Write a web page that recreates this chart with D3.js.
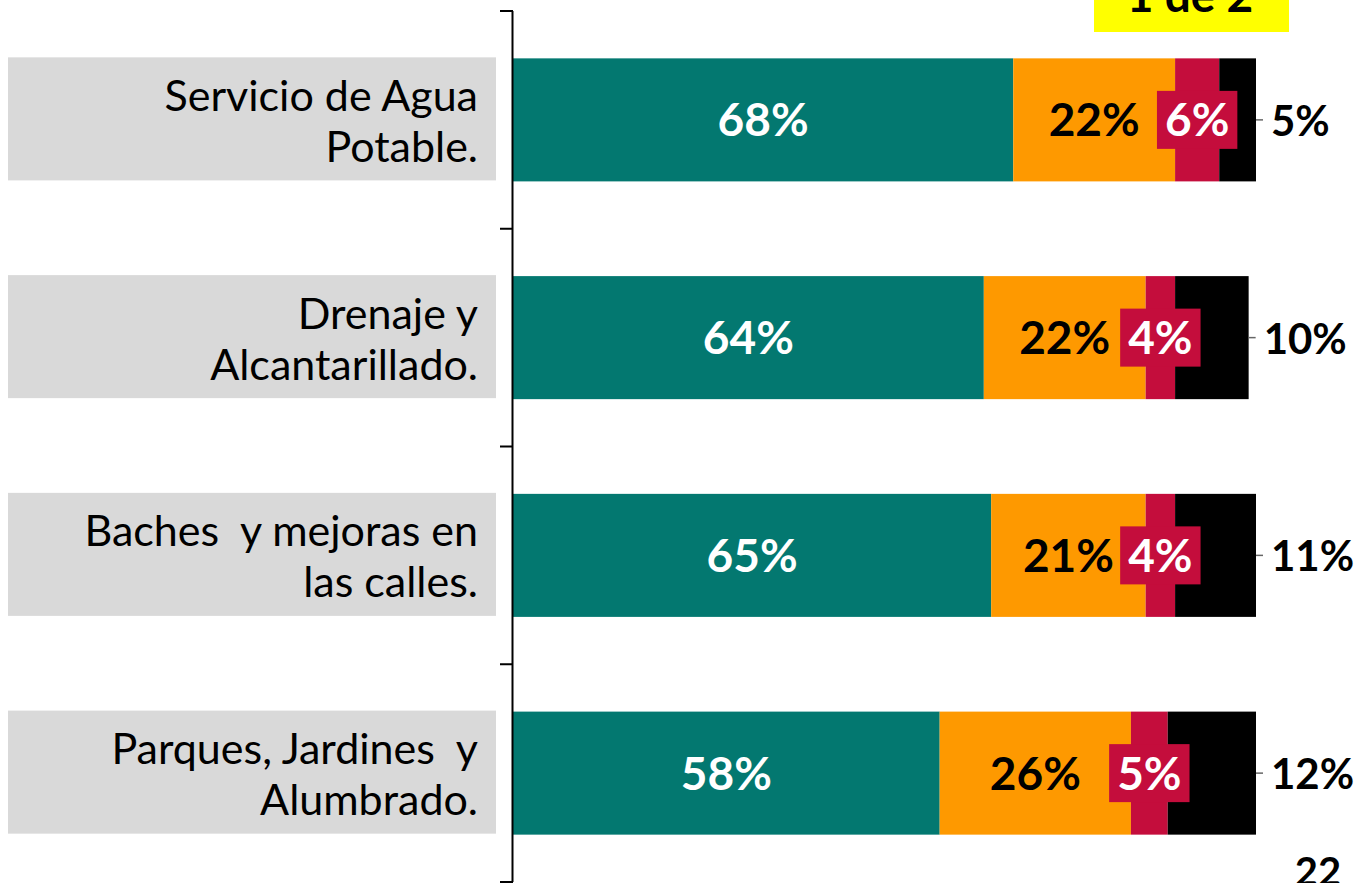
<!DOCTYPE html>
<html>
<head>
<meta charset="utf-8">
<script src="https://cdn.jsdelivr.net/npm/d3@7"></script>
<style>
  html, body { margin: 0; padding: 0; background: #fff; }
  svg { display: block; }
  .cat-label { font-family: Lato, "Open Sans", sans-serif; font-size: 43px; fill: #000; white-space: pre; }
  .val { font-family: Lato, "Open Sans", sans-serif; font-size: 46px; font-weight: 700; }
  .val-out { font-size: 42px; }
</style>
</head>
<body>
<svg id="chart"></svg>
<script>
const width = 1361;
const height = 883;

// categories (label lines) and the four answer shares
const categories = [
	["Servicio de Agua", "Potable."],
	["Drenaje y", "Alcantarillado."],
	["Baches  y mejoras en", "las calles."],
	["Parques, Jardines  y", "Alumbrado."]
];
const serie1 = [68, 64, 65, 58];
const serie2 = [22, 22, 21, 26];
const serie3 = [6, 4, 4, 5];
const serie4 = [5, 10, 11, 12];
const pageTag = "1 de 2";
const pageNumber = "22";

const colors = ["#037870", "#FE9900", "#C40D3C", "#000000"];

const svg = d3.select("#chart")
	.attr("width", width)
	.attr("height", height);

const x = d3.scaleLinear()
	.domain([0, 101])
	.range([513, 1256]);

const y = d3.scaleBand()
	.domain(d3.range(categories.length))
	.range([11, 882])
	.paddingInner(0.435)
	.paddingOuter(0.2175);

const series = [serie1, serie2, serie3, serie4];

// stack data by hand: one row per category
const rows = categories.map((c, i) => {
	let acc = 0;
	const segs = series.map((s, k) => {
		const seg = { k, start: acc, value: s[i] };
		acc += s[i];
		return seg;
	});
	return { i, lines: c, segs, total: acc };
});

// grey category boxes
const labelGroup = svg.append("g");
labelGroup.selectAll("rect")
	.data(rows)
	.enter()
	.append("rect")
	.attr("x", 8)
	.attr("y", (d) => y(d.i) - 1)
	.attr("width", 488)
	.attr("height", y.bandwidth())
	.attr("fill", "#D9D9D9");

labelGroup.selectAll("text")
	.data(rows)
	.enter()
	.append("text")
	.attr("class", "cat-label")
	.attr("text-anchor", "end")
	.attr("x", 478)
	.attr("y", (d) => y(d.i) + y.bandwidth() / 2 - 9)
	.selectAll("tspan")
	.data((d) => d.lines)
	.enter()
	.append("tspan")
	.attr("x", 478)
	.attr("dy", (d, j) => j === 0 ? 0 : 51)
	.text((d) => d);

// bars
const barGroup = svg.append("g");
const rowG = barGroup.selectAll("g")
	.data(rows)
	.enter()
	.append("g");

rowG.selectAll("rect")
	.data((d) => d.segs.map((s) => ({ ...s, i: d.i })))
	.enter()
	.append("rect")
	.attr("x", (d) => x(d.start))
	.attr("y", (d) => y(d.i))
	.attr("width", (d) => x(d.start + d.value) - x(d.start))
	.attr("height", y.bandwidth())
	.attr("fill", (d) => colors[d.k]);

// axis line with ticks at band edges
const axisG = svg.append("g");
axisG.append("line")
	.attr("x1", 512.5).attr("x2", 512.5)
	.attr("y1", y.range()[0]).attr("y2", y.range()[1])
	.attr("stroke", "#000").attr("stroke-width", 2);
axisG.selectAll("line.tick")
	.data(d3.range(categories.length + 1))
	.enter()
	.append("line")
	.attr("class", "tick")
	.attr("x1", 500).attr("x2", 513)
	.attr("y1", (d) => y.range()[0] + d * y.step())
	.attr("y2", (d) => y.range()[0] + d * y.step())
	.attr("stroke", "#000").attr("stroke-width", 2);

// value labels
const cy = (i) => y(i) + y.bandwidth() / 2;

rows.forEach((r) => {
	const g = svg.append("g");
	const [s1, s2, s3, s4] = r.segs;

	g.append("text")
		.attr("class", "val")
		.attr("text-anchor", "middle")
		.attr("x", x(s1.start + s1.value / 2))
		.attr("y", cy(r.i) + 16.5)
		.attr("fill", "#fff")
		.text(s1.value + "%");

	g.append("text")
		.attr("class", "val")
		.attr("text-anchor", "middle")
		.attr("x", x(s2.start + s2.value / 2))
		.attr("y", cy(r.i) + 16.5)
		.attr("fill", "#000")
		.text(s2.value + "%");

	// red label sits on its own red box
	const boxG = g.append("g");
	const box = boxG.append("rect").attr("fill", colors[2]);
	const t3 = boxG.append("text")
		.attr("class", "val")
		.attr("text-anchor", "middle")
		.attr("x", x(s3.start + s3.value / 2))
		.attr("y", cy(r.i) + 16.5)
		.attr("fill", "#fff")
		.text(s3.value + "%");
	const w3 = t3.node().getComputedTextLength() + 16;
	box.attr("x", x(s3.start + s3.value / 2) - w3 / 2)
		.attr("y", cy(r.i) - 29)
		.attr("width", w3)
		.attr("height", 58);

	// leader + outside label for last segment
	const end = x(s4.start + s4.value);
	g.append("line")
		.attr("x1", end).attr("x2", end + 7)
		.attr("y1", cy(r.i)).attr("y2", cy(r.i))
		.attr("stroke", "#666").attr("stroke-width", 1.5);
	g.append("text")
		.attr("class", "val val-out")
		.attr("x", end + 15)
		.attr("y", cy(r.i) + 16)
		.attr("fill", "#000")
		.text(s4.value + "%");
});

// yellow page tag at top right (cut by the frame)
svg.append("rect")
	.attr("x", 1094).attr("y", 0)
	.attr("width", 195).attr("height", 32)
	.attr("fill", "#FFFF00");
svg.append("text")
	.attr("class", "val")
	.attr("text-anchor", "middle")
	.attr("x", 1190).attr("y", 12)
	.attr("fill", "#000")
	.text(pageTag);

svg.append("text")
	.attr("class", "val")
	.attr("text-anchor", "middle")
	.style("font-size", "40px")
	.attr("x", 1318).attr("y", 886)
	.attr("fill", "#000")
	.text(pageNumber);
</script>
</body>
</html>
